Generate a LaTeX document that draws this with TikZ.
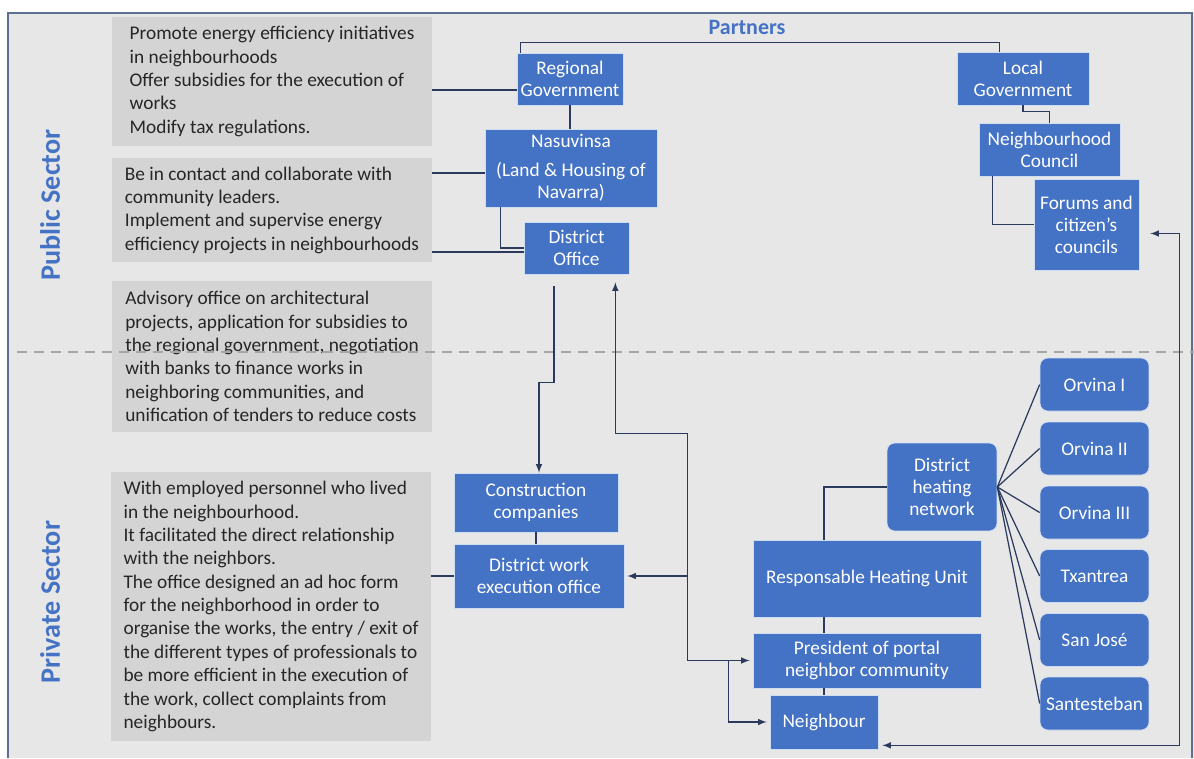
\documentclass[tikz,border=0pt]{standalone}
\usepackage{fontspec}
\setmainfont{Carlito}
\usepackage{xcolor}
\usepackage{tikz}
\usetikzlibrary{arrows}
\definecolor{unitblue}{HTML}{4472C4}
\definecolor{notegray}{HTML}{D5D4D4}
\definecolor{panelgray}{HTML}{E8E7E7}
\definecolor{linknavy}{HTML}{2B3A5C}
\definecolor{framecol}{HTML}{5B6F8F}

\begin{document}
\begin{tikzpicture}[x=0.02cm, y=-0.02cm, >=latex]
\useasboundingbox (0,0) rectangle (1194,758);
\fill[panelgray] (8,13) rectangle (1194,758);
\draw[framecol, line width=0.8pt] (8,758) -- (8,13) -- (1192,13) -- (1192,758);
\tikzstyle{every node} = [font=\fontsize{11}{12.5}\selectfont]
\tikzstyle{unit} = [rectangle, fill=unitblue, draw=white!75!unitblue, text=white, align=center, inner sep=1pt]
\tikzstyle{plant} = [unit, rounded corners=4.5pt]
\tikzstyle{note} = [fill=notegray, text=black!85, align=left, minimum width=6.4cm, inner xsep=0.2cm, inner ysep=0pt, font=\fontsize{11}{13.3}\selectfont]
\tikzstyle{sector} = [rotate=90, text=unitblue, font=\fontsize{16}{18}\selectfont\bfseries]
\tikzstyle{link} = [draw=linknavy, line width=0.7pt]
% sectors
\node[sector] (pub) at (50,205) {Public Sector};
\node[sector] (priv) at (50,602) {Private Sector};
\node[text=unitblue, font=\fontsize{12.5}{14}\selectfont\bfseries] (partners) at (747,27) {Partners};
% grey notes
\node[note, minimum height=2.58cm] (b1) at (272,81.5) {Promote energy efficiency initiatives\\in neighbourhoods\\Offer subsidies for the execution of\\works\\Modify tax regulations.};
\node[note, minimum height=2.08cm] (b2) at (272,210) {Be in contact and collaborate with\\community leaders.\\Implement and supervise energy\\efficiency projects in neighbourhoods};
\node[note, minimum height=3.02cm] (b3) at (272,356.5) {Advisory office on architectural\\projects, application for subsidies to\\the regional government, negotiation\\with banks to finance works in\\neighboring communities, and\\unification of tenders to reduce costs};
\node[note, minimum height=5.38cm] (b4) at (271,606.5) {With employed personnel who lived\\in the neighbourhood.\\It facilitated the direct relationship\\with the neighbors.\\The office designed an ad hoc form\\for the neighborhood in order to\\organise the works, the entry / exit of\\the different types of professionals to\\be more efficient in the execution of\\the work, collect complaints from\\neighbours.};
% public side
\node[unit, minimum width=2.12cm, minimum height=1.04cm] (rg) at (570,79) {Regional\\Government};
\node[unit, minimum width=3.44cm, minimum height=1.56cm] (nas) at (571,168) {Nasuvinsa\\[4pt](Land \& Housing of\\Navarra)};
\node[unit, minimum width=2.10cm, minimum height=1.04cm] (do) at (576.5,248) {District\\Office};
\node[unit, minimum width=2.64cm, minimum height=1.06cm] (lg) at (1023,78.5) {Local\\Government};
\node[unit, minimum width=2.82cm, minimum height=1.06cm] (nc) at (1049.5,149.5) {Neighbourhood\\Council};
\node[unit, minimum width=2.10cm, minimum height=1.82cm] (fo) at (1086.5,224.5) {Forums and\\citizen's\\councils};
% private side
\node[unit, minimum width=3.28cm, minimum height=1.18cm] (cc) at (536,502.5) {Construction\\companies};
\node[unit, minimum width=3.40cm, minimum height=1.28cm] (dw) at (539,576) {District work\\execution office};
\node[plant, minimum width=2.20cm, minimum height=1.76cm] (dhn) at (942,487) {District\\heating\\network};
\node[unit, minimum width=4.56cm, minimum height=1.54cm] (rhu) at (867,578.5) {Responsable Heating Unit};
\node[unit, minimum width=4.56cm, minimum height=1.10cm] (pr) at (867,660.5) {President of portal\\neighbor community};
\node[unit, minimum width=2.16cm, minimum height=1.08cm] (ne) at (824,722) {Neighbour};
\foreach \n/\y/\t in {1/384.5/Orvina I, 2/448.5/Orvina II, 3/512.5/Orvina III, 4/576/Txantrea, 5/640/San José, 6/703.5/Santesteban}
  \node[plant, minimum width=2.18cm, minimum height=1.06cm] (o\n) at (1094.5,\y) {\t};
\tikzstyle{every node} = []
% divider
\draw[draw=black!35, line width=0.9pt, dash pattern=on 0.2cm off 0.14cm] (17,352) -- (1194,352);
% links, public
\coordinate (rgin) at ([yshift=-0.22cm]rg.west);
\draw[link] (rgin) -- (b1.east |- rgin);
\coordinate (nasin) at ([yshift=-0.1cm]nas.west);
\draw[link] (nasin) -- (b2.east |- nasin);
\coordinate (doin) at ([yshift=-0.08cm]do.west);
\draw[link] (doin) -- (b2.east |- doin);
\draw[link] ([xshift=0.32cm]nas.south west) |- (do.west);
\draw[link] (rg.south) -- (rg.south |- nas.north);
\draw[link] ([xshift=0.08cm]rg.north west) -- ++(0,-10) -| ([xshift=0.86cm]lg.north west);
\draw[link] (lg.south) -- ++(0,6) -| (nc.north);
\draw[link] ([xshift=0.28cm]nc.south west) |- (fo.west);
% links, private
\draw[link,->] ([xshift=-0.45cm,yshift=-0.24cm]do.south) -- ++(0,96) -| ([xshift=0.06cm]cc.north);
\draw[link] (cc.south) -- (cc.south |- dw.north);
\draw[link] (dw.west) -- (b4.east |- dw.west);
\draw[link,<->] ([xshift=-0.28cm,yshift=-0.16cm]do.south east) -- ++(0,151) -- ++(72,0) |- ([xshift=-0.06cm]pr.west);
\coordinate (jx) at ([xshift=-1.32cm]pr.west);
\draw[link,->] (jx |- dw.east) -- ([xshift=0.06cm]dw.east);
\draw[link,->] ([xshift=-0.48cm]pr.west) |- ([xshift=-0.06cm]ne.west);
\draw[link] (ne.north) -- (ne.north |- pr.south);
\draw[link] (ne.north |- pr.north) -- (ne.north |- rhu.south);
\draw[link] (ne.north |- rhu.north) |- (dhn.west);
\foreach \n in {1,...,6}
  \draw[link] (dhn.east) -- (o\n.west);
\draw[link,<->] ([xshift=0.22cm,yshift=-0.18cm]fo.east) -- ++(29,0) |- ([xshift=0.08cm,yshift=0.08cm]ne.south east);
\end{tikzpicture}
\end{document}
